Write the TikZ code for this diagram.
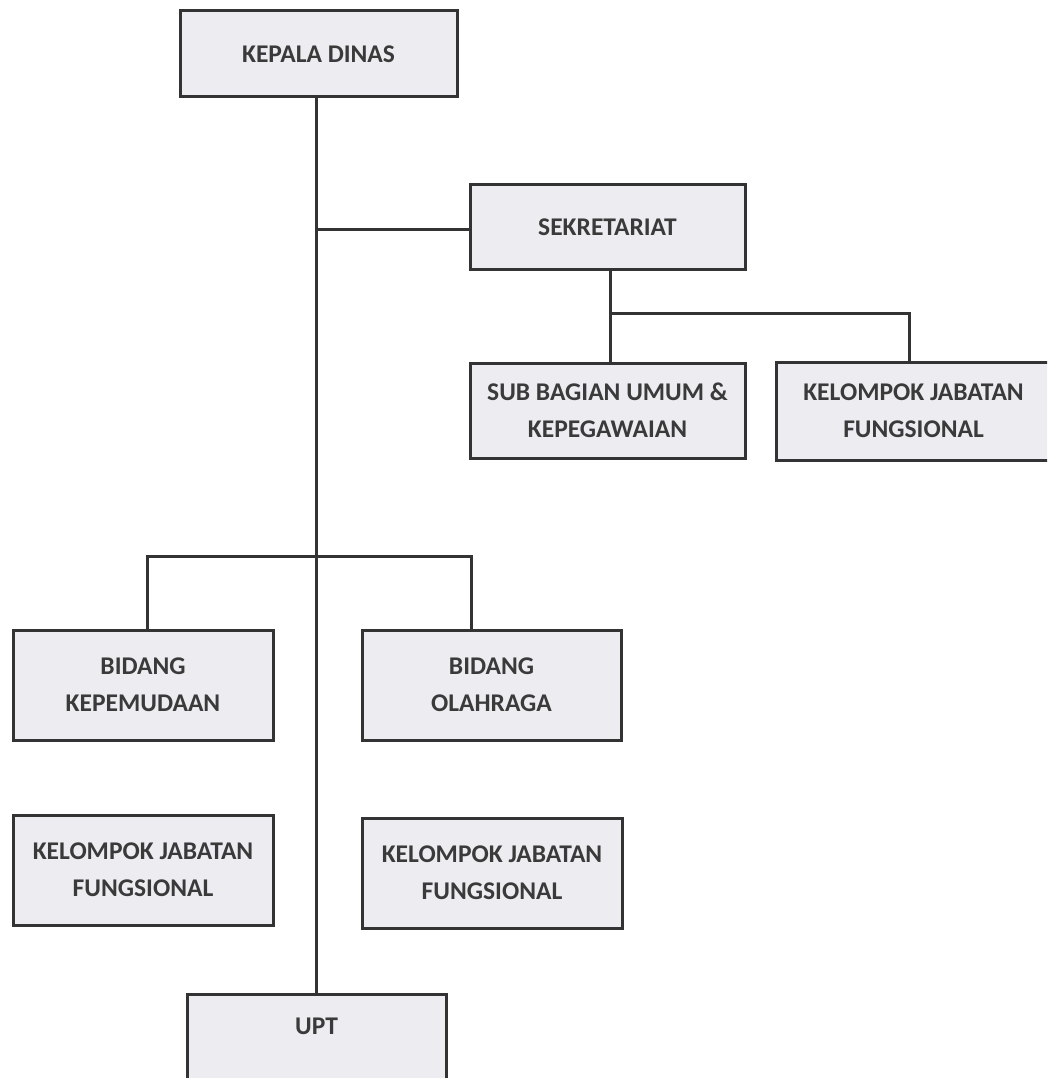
\documentclass[tikz,border=0pt]{standalone}
\usepackage{fontspec}
\setmainfont{Carlito}
\definecolor{boxfill}{HTML}{EDEDF1}
\definecolor{ink}{HTML}{333333}
\definecolor{txt}{HTML}{3A3A3A}
\tikzset{
  orgbox/.style={draw=ink, line width=3pt, fill=boxfill, rectangle, inner sep=0pt,
    align=center, text=txt, font={\fontsize{25.5}{37}\selectfont\bfseries}},
  conn/.style={draw=ink, line width=3pt}
}
\begin{document}
\begin{tikzpicture}[x=1pt,y=-1pt]
\useasboundingbox (0,0) rectangle (1047,1078);
\clip (0,0) rectangle (1047,1078);
\node[orgbox, minimum width=277pt, minimum height=86pt] (kepala) at (318.5,54) {KEPALA DINAS};
\node[orgbox, minimum width=275pt, minimum height=84pt] (sekr) at (607.5,227) {SEKRETARIAT};
\node[orgbox, minimum width=275pt, minimum height=95pt] (sub) at (607.5,410.5) {SUB BAGIAN UMUM \&\\KEPEGAWAIAN};
\node[orgbox, minimum width=291pt, minimum height=98pt] (kjfr) at (921.5,411) {\hspace*{-16pt}KELOMPOK JABATAN\\\hspace*{-16pt}FUNGSIONAL};
\node[orgbox, minimum width=260pt, minimum height=110pt] (bk) at (143,685) {BIDANG\\KEPEMUDAAN};
\node[orgbox, minimum width=259pt, minimum height=110pt] (bo) at (491.5,685) {BIDANG\\OLAHRAGA};
\node[orgbox, minimum width=260pt, minimum height=110pt] (kjfl) at (143,870) {KELOMPOK JABATAN\\FUNGSIONAL};
\node[orgbox, minimum width=260pt, minimum height=110pt] (kjfm) at (492,873) {KELOMPOK JABATAN\\FUNGSIONAL};
\node[orgbox, minimum width=259pt, anchor=north, text height=40pt, text depth=52pt] (upt) at (316.5,993) {UPT};
% connectors
\coordinate (jsek) at (316,229);
\coordinate (jbid) at (316,556);
\coordinate (jsub) at (610,313);
\draw[conn] (kepala.south -| jsek) -- (upt.north -| jsek);
\draw[conn] (jsek) -- (jsek -| sekr.west);
\draw[conn] (sekr.south -| jsub) -- (sub.north -| jsub);
\draw[conn] (jsub) -| (kjfr.north -| 909,0);
\draw[conn] (bk.north -| 147,0) |- (jbid) -| (bo.north -| 471,0);
\end{tikzpicture}
\end{document}
